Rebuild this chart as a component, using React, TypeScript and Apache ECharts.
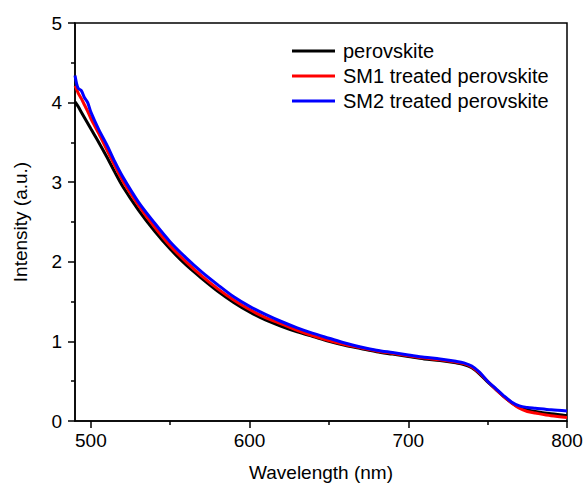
import React, { useEffect, useRef } from "react";
import * as echarts from "echarts";

const wavelengths = [490, 491, 492, 494, 496, 498, 500, 505, 510, 515, 520, 530, 540, 550, 560, 570, 580, 590, 600, 610, 620, 630, 640, 650, 660, 670, 680, 690, 700, 710, 720, 730, 735, 740, 745, 750, 755, 760, 765, 770, 775, 780, 790, 800];

const perovskite = [4.01, 3.98, 3.95, 3.88, 3.81, 3.74, 3.67, 3.50, 3.32, 3.13, 2.95, 2.65, 2.39, 2.16, 1.96, 1.79, 1.63, 1.49, 1.37, 1.27, 1.19, 1.12, 1.06, 1.00, 0.95, 0.91, 0.87, 0.84, 0.81, 0.78, 0.76, 0.73, 0.71, 0.67, 0.59, 0.49, 0.40, 0.31, 0.23, 0.17, 0.14, 0.12, 0.09, 0.065];

const sm1Treated = [4.21, 4.17, 4.12, 4.05, 3.97, 3.89, 3.80, 3.61, 3.41, 3.21, 3.02, 2.71, 2.44, 2.20, 2.00, 1.82, 1.66, 1.52, 1.40, 1.30, 1.22, 1.14, 1.07, 1.01, 0.96, 0.92, 0.88, 0.85, 0.82, 0.79, 0.77, 0.74, 0.72, 0.68, 0.60, 0.50, 0.40, 0.31, 0.23, 0.16, 0.12, 0.10, 0.065, 0.045];

const sm2Treated = [4.34, 4.24, 4.18, 4.15, 4.06, 4.00, 3.88, 3.66, 3.47, 3.26, 3.07, 2.75, 2.49, 2.25, 2.05, 1.87, 1.71, 1.56, 1.44, 1.34, 1.25, 1.17, 1.10, 1.04, 0.98, 0.93, 0.89, 0.86, 0.83, 0.80, 0.78, 0.75, 0.73, 0.69, 0.61, 0.50, 0.41, 0.32, 0.24, 0.19, 0.17, 0.16, 0.14, 0.125];

const seriesNames = ["perovskite", "SM1 treated perovskite", "SM2 treated perovskite"];
const seriesColors = ["#000000", "#ff0000", "#0000ff"];
const seriesValues = [perovskite, sm1Treated, sm2Treated];

const xMajorTicks = [500, 600, 700, 800];
const xMinorTicks = [550, 650, 750];

const FONT = 'Arial, "Liberation Sans", sans-serif';

export default function App() {
  const ref = useRef<HTMLDivElement>(null);

  useEffect(() => {
    document.body.style.margin = "0";
    if (!ref.current) return;
    const chart = echarts.init(ref.current, null, { renderer: "svg" });

    const series = seriesValues.map((vals, i) => ({
      name: seriesNames[i],
      type: "line",
      xAxisIndex: 0,
      yAxisIndex: 0,
      data: wavelengths.map((w, j) => [w, vals[j]]),
      showSymbol: false,
      smooth: 0.3,
      lineStyle: { color: seriesColors[i], width: 3 },
      itemStyle: { color: seriesColors[i] },
      z: 2 + i,
    }));

    chart.setOption({
      animation: false,
      backgroundColor: "#ffffff",
      textStyle: { fontFamily: FONT },
      grid: {
        left: 75,
        right: 19,
        top: 23,
        bottom: 70,
        show: true,
        borderColor: "#000",
        borderWidth: 1.5,
        backgroundColor: "transparent",
      },
      legend: {
        orient: "vertical",
        left: 287,
        top: 36,
        icon: "rect",
        itemWidth: 43,
        itemHeight: 3,
        itemGap: 5,
        textStyle: {
          fontFamily: FONT,
          fontSize: 20,
          color: "#000",
          lineHeight: 20,
          padding: [0, 0, 0, 3],
        },
        data: seriesNames,
      },
      xAxis: [
        {
          type: "value",
          min: 490,
          max: 800,
          position: "bottom",
          name: "Wavelength (nm)",
          nameLocation: "middle",
          nameGap: 42,
          nameTextStyle: { fontFamily: FONT, fontSize: 19, color: "#000" },
          axisLine: { show: true, lineStyle: { color: "#000", width: 1.5 } },
          axisTick: {
            show: true,
            length: 7,
            customValues: xMajorTicks,
            lineStyle: { color: "#000", width: 1.5 },
          },
          axisLabel: {
            customValues: xMajorTicks,
            margin: 10,
            fontFamily: FONT,
            fontSize: 19,
            color: "#000",
          },
          splitLine: { show: false },
        },
        {
          type: "value",
          min: 490,
          max: 800,
          position: "bottom",
          offset: 0,
          axisLine: { show: false },
          axisTick: {
            show: true,
            length: 4,
            customValues: xMinorTicks,
            lineStyle: { color: "#000", width: 1.5 },
          },
          axisLabel: { show: false },
          splitLine: { show: false },
        },
      ],
      yAxis: {
        type: "value",
        min: 0,
        max: 5,
        interval: 1,
        name: "Intensity (a.u.)",
        nameLocation: "middle",
        nameGap: 45,
        nameTextStyle: { fontFamily: FONT, fontSize: 19, color: "#000" },
        axisLine: { show: true, lineStyle: { color: "#000", width: 1.5 } },
        axisTick: { show: true, length: 7, lineStyle: { color: "#000", width: 1.5 } },
        minorTick: { show: true, splitNumber: 2, length: 4, lineStyle: { color: "#000", width: 1.5 } },
        axisLabel: { margin: 13, fontFamily: FONT, fontSize: 19, color: "#000" },
        splitLine: { show: false },
        minorSplitLine: { show: false },
      },
      series,
    });

    return () => chart.dispose();
  }, []);

  return <div ref={ref} style={{ width: 586, height: 491 }} />;
}
